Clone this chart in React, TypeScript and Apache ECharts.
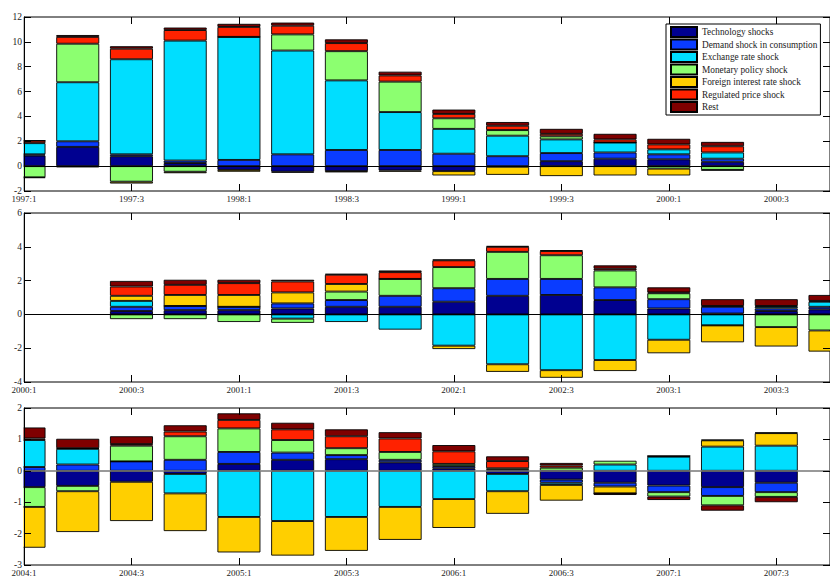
import React, { useEffect, useRef } from "react";
import * as echarts from "echarts";

const seriesNames = [
  "Technology shocks",
  "Demand shock in consumption",
  "Exchange rate shock",
  "Monetary policy shock",
  "Foreign interest rate shock",
  "Regulated price shock",
  "Rest",
];
const seriesColors = ["#000090", "#0A3CFF", "#00DEFF", "#8CFF70", "#FFCF00", "#FF2200", "#7F0000"];

// Panel 1: 1997:1 – 2000:2 (axis starts 1997:1)
const topBaseYear = 1997;
const topX = [0, 1, 2, 3, 4, 5, 6, 7, 8, 9, 10, 11, 12, 13];
const topTech = [0.85, 1.55, 0.8, 0.25, -0.3, -0.45, -0.4, -0.35, -0.4, -0.05, 0.4, 0.6, 0.55, 0.35];
const topDemand = [0.1, 0.45, 0.15, 0.2, 0.5, 0.95, 1.3, 1.3, 1.0, 0.8, 0.65, 0.5, 0.4, 0.25];
const topExch = [0.9, 4.75, 7.65, 9.65, 9.9, 8.35, 5.6, 3.05, 2.0, 1.65, 1.1, 0.8, 0.4, 0.5];
const topMon = [-0.9, 3.1, -1.25, -0.45, 0, 1.3, 2.35, 2.45, 0.85, 0.45, 0.25, 0, -0.2, -0.3];
const topForeign = [-0.05, -0.1, -0.15, -0.12, -0.15, -0.08, -0.1, -0.1, -0.35, -0.65, -0.8, -0.75, -0.55, -0.05];
const topReg = [0.2, 0.55, 0.85, 0.85, 0.8, 0.7, 0.65, 0.5, 0.35, 0.35, 0.2, 0.25, 0.4, 0.5];
const topRest = [0.02, 0.15, 0.2, 0.2, 0.25, 0.25, 0.3, 0.3, 0.35, 0.3, 0.4, 0.45, 0.45, 0.35];

// Panel 2: 2000:3 – 2003:4 (axis starts 2000:1)
const midBaseYear = 2000;
const midX = [2, 3, 4, 5, 6, 7, 8, 9, 10, 11, 12, 13, 14, 15];
const midTech = [0.2, 0.25, 0.25, 0.35, 0.45, 0.45, 0.75, 1.1, 1.15, 0.85, 0.35, 0.05, 0.2, 0.3];
const midDemand = [0.25, 0.25, 0.2, 0.3, 0.4, 0.65, 0.8, 1.0, 0.95, 0.75, 0.55, 0.4, 0.15, 0.15];
const midExch = [0.35, 0, 0, -0.25, -0.45, -0.9, -1.85, -2.95, -3.3, -2.7, -1.5, -0.65, 0.1, 0.3];
const midMon = [-0.28, -0.28, -0.45, -0.25, 0.5, 1.0, 1.25, 1.6, 1.4, 1.0, 0.35, 0, -0.75, -0.95];
const midForeign = [0.3, 0.65, 0.7, 0.65, 0.45, 0, -0.2, -0.45, -0.45, -0.65, -0.8, -1.0, -1.15, -1.25];
const midReg = [0.55, 0.6, 0.7, 0.65, 0.55, 0.4, 0.4, 0.3, 0.25, 0.1, 0.05, 0.05, 0.05, 0.05];
const midRest = [0.33, 0.3, 0.2, 0.1, 0.05, 0.1, 0.05, 0.05, 0.05, 0.2, 0.3, 0.4, 0.4, 0.35];

// Panel 3: 2004:1 – 2007:3 (axis starts 2004:1)
const botBaseYear = 2004;
const botX = [0, 1, 2, 3, 4, 5, 6, 7, 8, 9, 10, 11, 12, 13, 14];
const botTech = [-0.52, -0.48, -0.35, -0.1, 0.22, 0.35, 0.37, 0.27, 0.08, -0.1, -0.28, -0.38, -0.47, -0.52, -0.38];
const botDemand = [0.12, 0.2, 0.3, 0.35, 0.38, 0.23, 0.13, 0.08, 0.07, 0.03, -0.1, -0.12, -0.21, -0.28, -0.3];
const botExch = [0.86, 0.5, 0, -0.62, -1.47, -1.6, -1.47, -1.15, -0.9, -0.55, -0.07, 0.2, 0.45, 0.77, 0.8];
const botMon = [-0.63, -0.17, 0.5, 0.75, 0.75, 0.4, 0.22, 0.25, 0.07, 0.05, 0.1, 0.12, -0.14, -0.3, -0.15];
const botForeign = [-1.3, -1.3, -1.25, -1.2, -1.13, -1.1, -1.08, -1.05, -0.92, -0.72, -0.5, -0.22, 0.02, 0.2, 0.4];
const botReg = [0.05, 0.02, 0.05, 0.15, 0.27, 0.34, 0.38, 0.43, 0.4, 0.23, 0.07, 0, 0, 0.02, 0.02];
const botRest = [0.35, 0.3, 0.25, 0.2, 0.21, 0.21, 0.22, 0.2, 0.2, 0.15, 0.08, -0.05, -0.11, -0.17, -0.17];

const FONT = "Liberation Serif";
const N_QUARTERS = 16; // each panel's axis spans 16 quarter positions
const LEFT = 24;

function quarterCategories(baseYear: number) {
  const out: string[] = [];
  for (let i = 0; i < N_QUARTERS; i++) out.push(`${baseYear + Math.floor(i / 4)}:${(i % 4) + 1}`);
  return out;
}

function buildPanel(
  gridIndex: number,
  stack: string,
  xs: number[],
  values: number[][],
  zeroColor: string,
  zeroWidth: number
) {
  return values.map((vals, s) => {
    const data: any[] = new Array(N_QUARTERS).fill("-");
    xs.forEach((x, i) => {
      data[x] = vals[i];
    });
    const ser: any = {
      type: "bar",
      name: seriesNames[s],
      xAxisIndex: gridIndex * 2,
      yAxisIndex: gridIndex * 2,
      stack,
      stackStrategy: "samesign",
      barWidth: 43,
      clip: true,
      itemStyle: { color: seriesColors[s], borderColor: "#000", borderWidth: 0.9 },
      emphasis: { disabled: true },
      data,
    };
    if (s === values.length - 1) {
      ser.markLine = {
        silent: true,
        symbol: "none",
        label: { show: false },
        lineStyle: { color: zeroColor, width: zeroWidth, type: "solid" },
        data: [{ yAxis: 0 }],
      };
    }
    return ser;
  });
}

const grids = [
  { top: 17, height: 174, ymin: -2, ymax: 12, yint: 2, base: topBaseYear },
  { top: 213, height: 169, ymin: -4, ymax: 6, yint: 2, base: midBaseYear },
  { top: 408, height: 159, ymin: -3, ymax: 2, yint: 1, base: botBaseYear },
];

export default function App() {
  const ref = useRef<HTMLDivElement>(null);
  useEffect(() => {
    if (!ref.current) return;
    const chart = echarts.init(ref.current, null, { renderer: "svg" });
    const xAxes: any[] = [];
    const yAxes: any[] = [];
    grids.forEach((g, gi) => {
      const cats = quarterCategories(g.base);
      const xtick = { show: true, inside: true, length: 7, interval: 1, alignWithLabel: true, lineStyle: { color: "#000", width: 1 } };
      const ytick = { show: true, inside: true, length: 7, lineStyle: { color: "#000", width: 1 } };
      xAxes.push({
        type: "category",
        gridIndex: gi,
        data: cats,
        boundaryGap: false,
        z: 10,
        axisLine: { show: false, onZero: false },
        axisTick: xtick,
        splitLine: { show: false },
        axisLabel: {
          interval: 1,
          fontFamily: FONT,
          fontSize: 9,
          color: "#222",
          margin: 3,
        },
      });
      xAxes.push({
        type: "category",
        gridIndex: gi,
        position: "top",
        data: cats,
        boundaryGap: false,
        z: 10,
        axisLine: { show: false, onZero: false },
        axisTick: xtick,
        splitLine: { show: false },
        axisLabel: { show: false },
      });
      yAxes.push({
        type: "value",
        gridIndex: gi,
        min: g.ymin,
        max: g.ymax,
        interval: g.yint,
        z: 10,
        axisLine: { show: true, onZero: false, lineStyle: { color: "#000", width: 1 } },
        axisTick: ytick,
        splitLine: { show: false },
        axisLabel: { fontFamily: FONT, fontSize: 9.5, color: "#222", margin: 2 },
      });
      yAxes.push({
        type: "value",
        gridIndex: gi,
        position: "right",
        min: g.ymin,
        max: g.ymax,
        interval: g.yint,
        z: 10,
        axisLine: { show: false, onZero: false },
        axisTick: ytick,
        splitLine: { show: false },
        axisLabel: { show: false },
      });
    });

    const series = [
      ...buildPanel(0, "top", topX, [topTech, topDemand, topExch, topMon, topForeign, topReg, topRest], "#000", 1),
      ...buildPanel(1, "mid", midX, [midTech, midDemand, midExch, midMon, midForeign, midReg, midRest], "#000", 1),
      ...buildPanel(2, "bot", botX, [botTech, botDemand, botExch, botMon, botForeign, botReg, botRest], "#777", 1.5),
    ];

    // white masks left of each plot frame (bars on a boundary-less category axis are not clipped)
    const masks = grids.map((g) => ({
      type: "rect",
      z: 5,
      silent: true,
      shape: { x: 0, y: g.top - 2, width: LEFT - 0.5, height: g.height + 4 },
      style: { fill: "#fff" },
    }));

    chart.setOption({
      animation: false,
      backgroundColor: "#fff",
      grid: grids.map((g) => ({
        left: LEFT,
        right: -3,
        top: g.top,
        height: g.height,
        show: true,
        borderColor: "#000",
        borderWidth: 1,
        backgroundColor: "transparent",
      })),
      xAxis: xAxes,
      yAxis: yAxes,
      graphic: { elements: masks },
      legend: {
        data: seriesNames,
        orient: "vertical",
        left: 666,
        top: 24,
        itemWidth: 26,
        itemHeight: 10,
        itemGap: 0.5,
        icon: "rect",
        padding: [2, 3, 2, 4],
        borderColor: "#000",
        borderWidth: 1,
        backgroundColor: "#fff",
        z: 20,
        selectedMode: false,
        textStyle: { fontFamily: FONT, fontSize: 9.3, color: "#222", lineHeight: 10 },
      },
      series,
    });
    return () => chart.dispose();
  }, []);

  return (
    <div style={{ position: "fixed", left: 0, top: 0, width: 830, height: 577, overflow: "hidden", background: "#fff" }}>
      <div ref={ref} style={{ width: 830, height: 577 }} />
    </div>
  );
}
